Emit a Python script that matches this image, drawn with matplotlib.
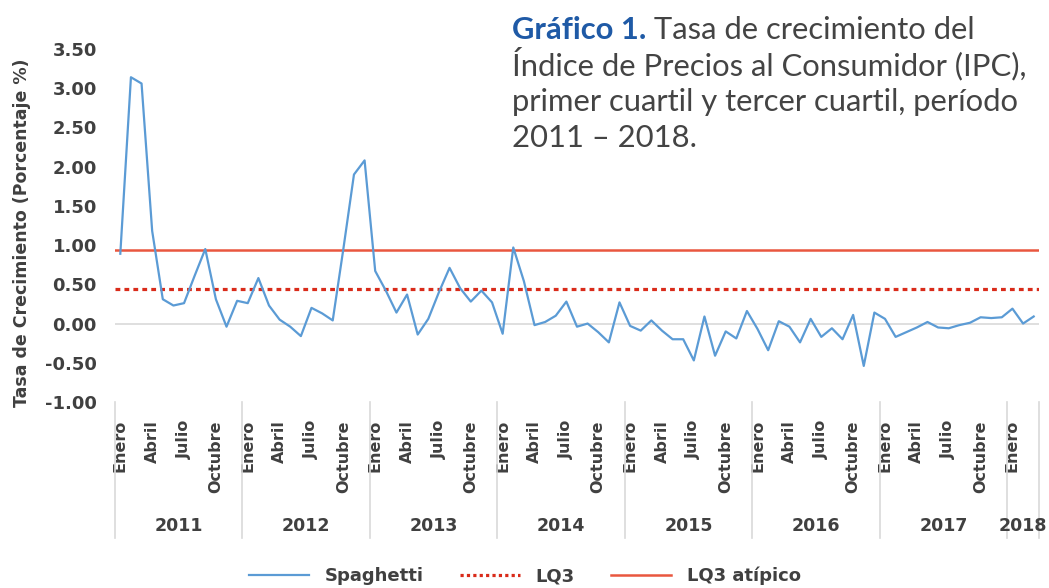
import numpy as np
import matplotlib.pyplot as plt
from matplotlib.lines import Line2D
from matplotlib.transforms import blended_transform_factory

# monthly growth rate, Jan 2011 .. Mar 2018
spaghetti = [
    0.89, 3.14, 3.06, 1.18, 0.31, 0.23, 0.26, 0.61, 0.95, 0.31, -0.04, 0.29,   # 2011
    0.26, 0.58, 0.23, 0.05, -0.04, -0.16, 0.20, 0.13, 0.04, 0.95, 1.90, 2.08,  # 2012
    0.67, 0.42, 0.14, 0.37, -0.14, 0.06, 0.40, 0.71, 0.45, 0.28, 0.42, 0.27,   # 2013
    -0.13, 0.97, 0.54, -0.02, 0.02, 0.10, 0.28, -0.04, 0.00, -0.11, -0.24, 0.27,  # 2014
    -0.03, -0.09, 0.04, -0.09, -0.20, -0.20, -0.47, 0.09, -0.41, -0.10, -0.19, 0.16,  # 2015
    -0.07, -0.34, 0.03, -0.04, -0.24, 0.06, -0.17, -0.06, -0.20, 0.11, -0.54, 0.14,  # 2016
    0.06, -0.17, -0.11, -0.05, 0.02, -0.05, -0.06, -0.02, 0.01, 0.08, 0.07, 0.08,  # 2017
    0.19, 0.00, 0.09,  # 2018
]
lq3 = 0.44
lq3_atipico = 0.94

years = ["2011", "2012", "2013", "2014", "2015", "2016", "2017", "2018"]
months_per_year = [12, 12, 12, 12, 12, 12, 12, 3]
month_names = ["Enero", "Abril", "Julio", "Octubre"]
yticks = [3.5, 3.0, 2.5, 2.0, 1.5, 1.0, 0.5, 0.0, -0.5, -1.0]

W, H = 1049, 588
fig = plt.figure(figsize=(W / 100, H / 100), dpi=100)
ax = fig.add_axes([115 / W, 1 - 402 / H, (1039 - 115) / W, 353 / H])

txt = "#404040"
blue = "#5B9BD5"
red_dot = "#D92B1A"
red_line = "#E9573F"

x = np.arange(len(spaghetti))
ax.plot(x, spaghetti, color=blue, lw=1.6, zorder=3)
ax.axhline(lq3, color=red_dot, lw=2.3, linestyle=(0, (1.5, 1.3)), zorder=2)
ax.axhline(lq3_atipico, color=red_line, lw=1.8, zorder=2)
ax.axhline(0, color="#D9D9D9", lw=1.2, zorder=1)

ax.set_xlim(-0.5, len(spaghetti) - 0.5)
ax.set_ylim(-1.0, 3.5)
for s in ax.spines.values():
    s.set_visible(False)

ax.set_yticks(yticks)
ax.set_yticklabels(["%.2f" % v for v in yticks])
ax.tick_params(axis="y", length=0, pad=13, labelsize=13, labelcolor=txt)
for lb in ax.get_yticklabels():
    lb.set_fontweight("bold")

# month tick labels every three months
pos, labs = [], []
start = 0
for n in months_per_year:
    for k in range(0, n, 3):
        pos.append(start + k)
        labs.append(month_names[k // 3])
    start += n
ax.set_xticks(pos)
ax.set_xticklabels(labs, rotation=90, va="top", ha="center", fontweight="bold", fontsize=11.5, color=txt)
ax.tick_params(axis="x", length=0, pad=13)

# year groups and separators
tr = blended_transform_factory(ax.transData, ax.transAxes)
start = 0
for yr, n in zip(years, months_per_year):
    ax.plot([start - 0.5, start - 0.5], [0, -0.385], transform=tr, color="#D9D9D9", lw=1.2, clip_on=False)
    ax.text(start + (n - 1) / 2, -0.35, yr, transform=tr, ha="center", va="center",
            fontsize=12.5, fontweight="bold", color=txt)
    start += n
ax.plot([start - 0.5, start - 0.5], [0, -0.385], transform=tr, color="#D9D9D9", lw=1.2, clip_on=False)

fig.text(22 / W, 1 - 233 / H, "Tasa de Crecimiento (Porcentaje %)", rotation=90,
         ha="center", va="center", fontsize=12.5, fontweight="bold", color=txt)

# title block
tfont = dict(family=["Lato", "DejaVu Sans"], fontsize=22.3, color="#444444")
t1 = fig.text(512 / W, 1 - 39 / H, "Gráfico 1.", fontweight="bold", color="#1F5AA6",
              family=["Lato", "DejaVu Sans"], fontsize=22.3, va="baseline", ha="left")
fig.canvas.draw()
ax.annotate(" Tasa de crecimiento del", xy=(1, 0), xycoords=t1, va="bottom", ha="left",
            annotation_clip=False, **tfont)
for i, line in enumerate(["Índice de Precios al Consumidor (IPC),",
                          "primer cuartil y tercer cuartil, período",
                          "2011 – 2018."]):
    fig.text(512 / W, 1 - (39 + 36 * (i + 1)) / H, line, va="baseline", ha="left", **tfont)

handles = [
    Line2D([], [], color=blue, lw=1.6),
    Line2D([], [], color=red_dot, lw=2.3, linestyle=(0, (1.0, 1.0))),
    Line2D([], [], color=red_line, lw=1.8),
]
leg = fig.legend(handles, ["Spaghetti", "LQ3", "LQ3 atípico"], loc="center",
                 bbox_to_anchor=(525 / W, 1 - 576 / H), ncol=3, frameon=False,
                 handlelength=3.3, handletextpad=0.9, columnspacing=2.0,
                 prop=dict(weight="bold", size=13))
for t in leg.get_texts():
    t.set_color(txt)

fig.savefig("out.png", dpi=100)
